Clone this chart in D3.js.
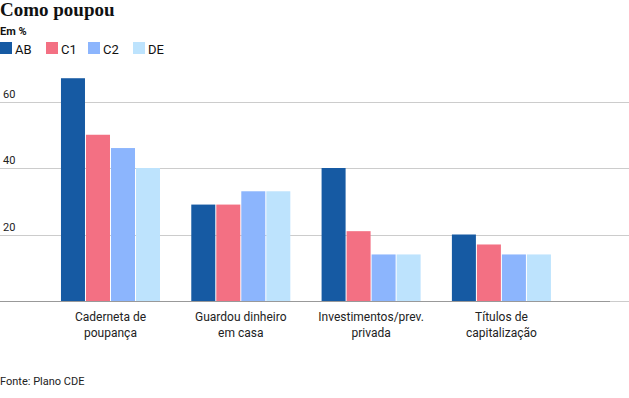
<!DOCTYPE html>
<html><head><meta charset="utf-8">
<script src="https://cdn.jsdelivr.net/npm/d3@7"></script>
<style>body{margin:0;background:#fff}svg{display:block}</style>
</head><body><svg id="c" width="629" height="398"></svg>
<script>
const categories = [["Caderneta de","poupança"],["Guardou dinheiro","em casa"],["Investimentos/prev.","privada"],["Títulos de","capitalização"]];
const series = ["AB","C1","C2","DE"];
const valuesAB = [67, 29, 40, 20];
const valuesC1 = [50, 29, 21, 17];
const valuesC2 = [46, 33, 14, 14];
const valuesDE = [40, 33, 14, 14];
const yTicks = [20, 40, 60];
const colors = ["#165aa3","#f37083","#8cb5fd","#bde3fd"];
const allValues = [valuesAB, valuesC1, valuesC2, valuesDE];

const svg = d3.select("#c");
const font = "Roboto, 'Noto Sans', sans-serif";

svg.append("text").attr("x",0).attr("y",16).text("Como poupou")
  .attr("font-family","'Liberation Serif', serif").attr("font-weight","bold").attr("font-size",19).attr("fill","#111");
svg.append("text").attr("x",0).attr("y",35).text("Em %")
  .attr("font-family",font).attr("font-weight","bold").attr("font-size",11).attr("fill","#111");

const legX = [0,46,88,133];
series.forEach((s,i)=>{
  svg.append("rect").attr("x",legX[i]).attr("y",42).attr("width",12).attr("height",12).attr("fill",colors[i]);
  svg.append("text").attr("x",legX[i]+15).attr("y",54).text(s).attr("font-family",font).attr("font-size",13).attr("fill","#111");
});

const y = d3.scaleLinear().domain([0,60]).range([301,101.5]);
const x0 = d3.scaleBand().domain(d3.range(categories.length)).range([29.7,582.2]).paddingInner(0.24).paddingOuter(0.24);
const x1 = d3.scaleBand().domain(series).range([0,x0.bandwidth()]).paddingInner(0.04);

// gridlines
svg.append("g").selectAll("line").data([0].concat(yTicks)).join("line")
  .attr("x1",0).attr("x2",629).attr("y1",d=>Math.round(y(d))+0.5).attr("y2",d=>Math.round(y(d))+0.5)
  .attr("stroke","#cccccc").attr("stroke-width",1);
svg.append("g").selectAll("text").data(yTicks).join("text")
  .attr("x",3).attr("y",d=>y(d)-4).text(d=>d)
  .attr("font-family",font).attr("font-size",11).attr("fill","#222");

// bars
const g = svg.append("g");
categories.forEach((c,ci)=>{
  series.forEach((s,si)=>{
    const v = allValues[si][ci];
    g.append("rect").attr("x",x0(ci)+x1(s)).attr("width",x1.bandwidth())
      .attr("y",y(v)).attr("height",y(0)-y(v)).attr("fill",colors[si]);
  });
});

// baseline
svg.append("line").attr("x1",0).attr("x2",610).attr("y1",Math.round(y(0))+0.5).attr("y2",Math.round(y(0))+0.5)
  .attr("stroke","#999").attr("stroke-width",1);

// category labels
categories.forEach((c,ci)=>{
  const cx = x0(ci)+x0.bandwidth()/2;
  const t = svg.append("text").attr("text-anchor","middle").attr("font-family",font).attr("font-size",12).attr("fill","#222");
  c.forEach((line,li)=>t.append("tspan").attr("x",cx).attr("y",321+li*16).text(line));
});

svg.append("text").attr("x",0).attr("y",385).text("Fonte: Plano CDE")
  .attr("font-family",font).attr("font-size",11).attr("fill","#222");
</script>
</body></html>
